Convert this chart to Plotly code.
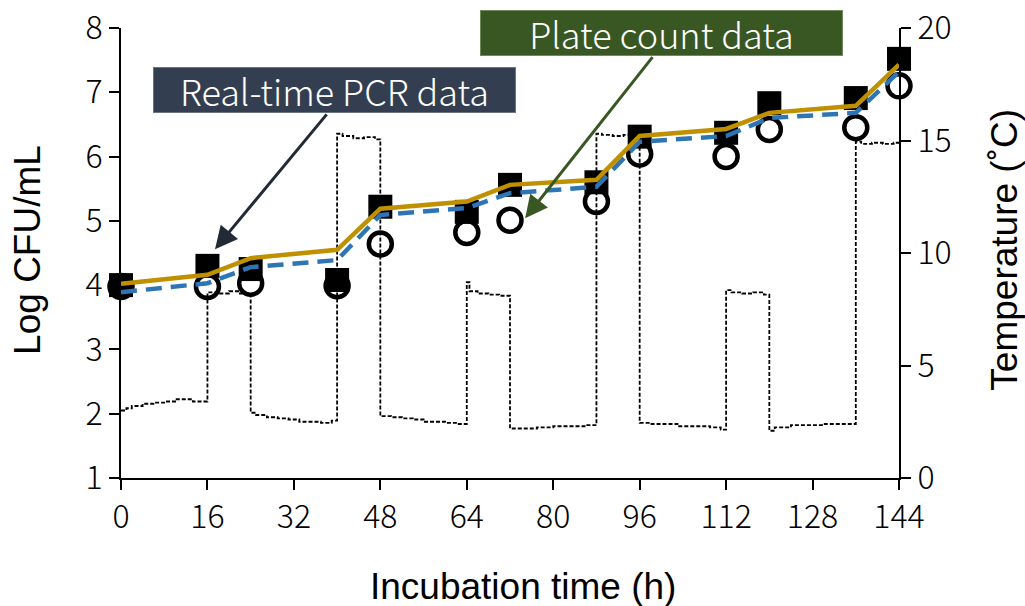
import plotly.graph_objects as go

# ---------------- data ----------------
hours = [0, 16, 24, 40, 48, 64, 72, 88, 96, 112, 120, 136, 144]
pcr_log = [4.0, 4.3, 4.25, 4.08, 5.22, 5.14, 5.56, 5.6, 6.31, 6.37, 6.83, 6.91, 7.52]
plate_log = [3.98, 3.98, 4.03, 3.99, 4.64, 4.82, 5.01, 5.3, 6.04, 6.0, 6.42, 6.45, 7.1]
model_solid = [4.02, 4.16, 4.42, 4.55, 5.19, 5.3, 5.56, 5.64, 6.32, 6.43, 6.68, 6.79, 7.43]
model_dashed = [3.89, 4.03, 4.28, 4.39, 5.09, 5.2, 5.43, 5.53, 6.23, 6.32, 6.6, 6.68, 7.32]

temp_time = [0, 1, 2, 4, 6, 8.5, 10.3, 13.3,
             16, 18, 20, 22,
             24, 25, 27, 29, 31, 33, 35, 37, 39,
             40, 41, 43, 45, 47,
             48, 50, 52, 54, 56, 58, 60, 62,
             64, 64.5, 66, 68, 70,
             72, 74, 77, 80, 83, 86,
             88, 89, 91, 93, 95,
             96, 98, 100, 103, 106, 109, 111,
             112, 113, 115, 117, 119,
             120, 121, 124, 127, 130, 133,
             136, 137, 139, 141, 143, 144]
temp_c = [3.0, 3.1, 3.2, 3.3, 3.35, 3.4, 3.5, 3.4,
          8.25, 8.2, 8.3, 8.2,
          2.9, 2.8, 2.7, 2.65, 2.6, 2.5, 2.5, 2.45, 2.55,
          15.3, 15.2, 15.1, 15.15, 15.05,
          2.75, 2.7, 2.65, 2.6, 2.5, 2.5, 2.45, 2.4,
          8.7, 8.3, 8.2, 8.15, 8.1,
          2.2, 2.2, 2.25, 2.3, 2.3, 2.35,
          15.3, 15.25, 15.2, 15.25, 15.1,
          2.45, 2.4, 2.4, 2.3, 2.3, 2.25, 2.15,
          8.35, 8.25, 8.2, 8.25, 8.15,
          2.1, 2.25, 2.35, 2.35, 2.4, 2.4,
          14.95, 14.85, 14.9, 14.85, 14.9, 14.9]

x_ticks = [0, 16, 32, 48, 64, 80, 96, 112, 128, 144]

TICK_FONT = dict(family="Noto Sans CJK JP", size=32, color="#000000", weight=300)
TITLE_FONT = dict(family="Liberation Sans, Arial", size=37, color="#000000")

fig = go.Figure()

# temperature (drawn first, on the base y axis shown at right)
fig.add_trace(go.Scatter(
    x=temp_time, y=temp_c, mode="lines", yaxis="y", line_shape="hv",
    line=dict(color="#000000", width=1.8, dash="4px,2px"),
    showlegend=False, hoverinfo="skip", cliponaxis=False))

# markers
fig.add_trace(go.Scatter(
    x=hours, y=pcr_log, mode="markers", yaxis="y2", cliponaxis=False,
    marker=dict(symbol="square", size=24, color="#000000"),
    showlegend=False))
fig.add_trace(go.Scatter(
    x=hours, y=plate_log, mode="markers", yaxis="y2", cliponaxis=False,
    marker=dict(symbol="circle-open", size=23, color="#000000",
                line=dict(width=4.5, color="#000000")),
    showlegend=False))

# model lines
fig.add_trace(go.Scatter(
    x=hours, y=model_dashed, mode="lines", yaxis="y2", cliponaxis=False,
    line=dict(color="#2E75B6", width=4.5, dash="16px,9px"),
    showlegend=False))
fig.add_trace(go.Scatter(
    x=hours, y=model_solid, mode="lines", yaxis="y2", cliponaxis=False,
    line=dict(color="#BF9000", width=4.5),
    showlegend=False))

# callouts: arrows
fig.add_annotation(x=17.4, y=4.56, ax=38.3, ay=6.68, xref="x", yref="y2",
                   axref="x", ayref="y2", text="", showarrow=True,
                   arrowhead=2, arrowsize=1.5, arrowwidth=3, arrowcolor="#222A35",
                   standoff=0)
fig.add_annotation(x=74.8, y=5.04, ax=98.6, ay=7.57, xref="x", yref="y2",
                   axref="x", ayref="y2", text="", showarrow=True,
                   arrowhead=2, arrowsize=1.5, arrowwidth=3, arrowcolor="#385723",
                   standoff=0)
# callouts: boxes
BOX_FONT = dict(family="Noto Sans CJK JP", size=36, color="#FFFFFF", weight=300)
fig.add_annotation(x=39.5, y=7.04, xref="x", yref="y2", text="Real-time PCR data",
                   showarrow=False, bgcolor="#333F50", bordercolor="#6B7684",
                   borderwidth=1, borderpad=2, width=357, height=40,
                   font=BOX_FONT)
fig.add_annotation(x=100.0, y=7.93, xref="x", yref="y2", text="Plate count data",
                   showarrow=False, bgcolor="#385723", bordercolor="#6F8A5C",
                   borderwidth=1, borderpad=2, width=357, height=40,
                   font=BOX_FONT)

# axis titles
fig.add_annotation(x=-0.1195, y=0.507, xref="paper", yref="paper", text="Log CFU/mL",
                   textangle=-90, showarrow=False, font=TITLE_FONT,
                   xanchor="center", yanchor="middle")
fig.add_annotation(x=1.136, y=0.507, xref="paper", yref="paper", text="Temperature (˚C)",
                   textangle=-90, showarrow=False, font=TITLE_FONT,
                   xanchor="center", yanchor="middle")
fig.add_annotation(x=0.517, y=-0.242, xref="paper", yref="paper", text="Incubation time (h)",
                   showarrow=False, font=TITLE_FONT,
                   xanchor="center", yanchor="middle")

AX = dict(showline=True, linecolor="#000000", linewidth=2,
          ticks="outside", ticklen=10, tickwidth=2, tickcolor="#000000",
          showgrid=False, zeroline=False, tickfont=TICK_FONT, automargin=False)

fig.update_layout(
    width=1025, height=606,
    margin=dict(l=121, r=126, t=28, b=128),
    paper_bgcolor="#FFFFFF", plot_bgcolor="#FFFFFF",
    showlegend=False,
    xaxis=dict(range=[0, 144], tickvals=x_ticks, ticktext=[str(v) for v in x_ticks], **AX),
    yaxis=dict(range=[0, 20], dtick=5, side="right", **AX),
    yaxis2=dict(range=[1, 8], dtick=1, side="left", overlaying="y", anchor="x", **AX),
)

fig.write_html("out.html", config={"displayModeBar": False},
               post_script="document.body.style.margin='0px';document.body.style.overflow='hidden';")
